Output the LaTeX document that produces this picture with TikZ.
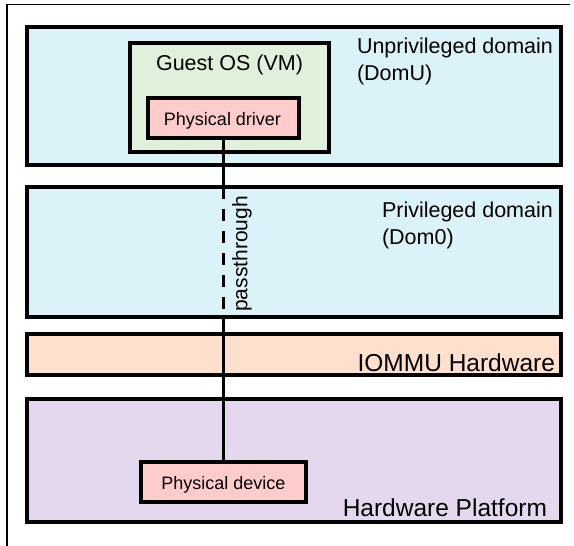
\documentclass[tikz,border=0pt]{standalone}
\usepackage{fontspec}
\setmainfont{Liberation Sans}
\definecolor{domcyan}{RGB}{218,242,248}
\definecolor{guestgreen}{RGB}{224,240,218}
\definecolor{drvpink}{RGB}{255,204,204}
\definecolor{iommupeach}{RGB}{255,224,204}
\definecolor{hwlavender}{RGB}{228,216,238}
\begin{document}
\begin{tikzpicture}[x=1pt,y=-1pt,
  box/.style={draw=black, line width=3.1pt, inner sep=0pt, outer sep=0pt},
  lbl/.style={inner sep=0pt, outer sep=0pt, align=left},
  wire/.style={line width=3.2pt},
  dashwire/.style={line width=3.3pt, dash pattern=on 12pt off 10pt}]
\useasboundingbox (0,0) rectangle (574,546);
% partial outer frame
\draw[line width=1.5pt] (7,546) -- (7,4.3) -- (570,4.3);

% layers
\node[box, fill=domcyan, minimum width=534, minimum height=138] (domu) at (294,96) {};
\node[box, fill=domcyan, minimum width=534, minimum height=130] (dom0) at (294,252) {};
\node[box, fill=iommupeach, minimum width=534, minimum height=41] (iommu) at (294,354.5) {};
\node[box, fill=hwlavender, minimum width=534, minimum height=123] (hw) at (294,460.5) {};

% guest VM and devices
\node[box, fill=guestgreen, minimum width=199, minimum height=109] (guest) at (229.5,97.5) {};
\node[box, fill=drvpink, minimum width=151, minimum height=40] (drv) at (223.5,118) {};
\node[box, fill=drvpink, minimum width=165, minimum height=40] (dev) at (223.5,482) {};

% texts
\node[lbl, anchor=base, font=\fontsize{21.5}{26}\selectfont] (guestlbl) at (229.5,70.5) {Guest OS (VM)};
\node[lbl, anchor=base, font=\fontsize{18}{22}\selectfont] (drvlbl) at (222.5,125) {Physical driver};
\node[lbl, anchor=base, font=\fontsize{18}{22}\selectfont] (devlbl) at (223.5,489) {Physical device};
\node[lbl, anchor=base west, font=\fontsize{21.5}{27}\selectfont] (domulbl) at (357,80) {Unprivileged domain\\(DomU)};
\node[lbl, anchor=base west, font=\fontsize{21.5}{27}\selectfont] (dom0lbl) at (382,244) {Privileged domain\\(Dom0)};
\node[lbl, anchor=base east, font=\fontsize{24.5}{28}\selectfont] (iommulbl) at (555,371) {IOMMU Hardware};
\node[lbl, anchor=base east, font=\fontsize{24.5}{28}\selectfont] (hwlbl) at (547,516.5) {Hardware Platform};

% passthrough connector
\coordinate (dashend) at (drv.south |- 0,309);
\draw[wire] (drv.south) -- (drv.south |- dom0.north);
\draw[dashwire] (drv.south |- dom0.north) -- (dashend);
\draw[wire] (drv.south |- dom0.south) -- (drv.south |- dev.north);
\node[lbl, rotate=90, font=\fontsize{21}{25}\selectfont] (ptlbl) at (242,254) {passthrough};
\end{tikzpicture}
\end{document}
